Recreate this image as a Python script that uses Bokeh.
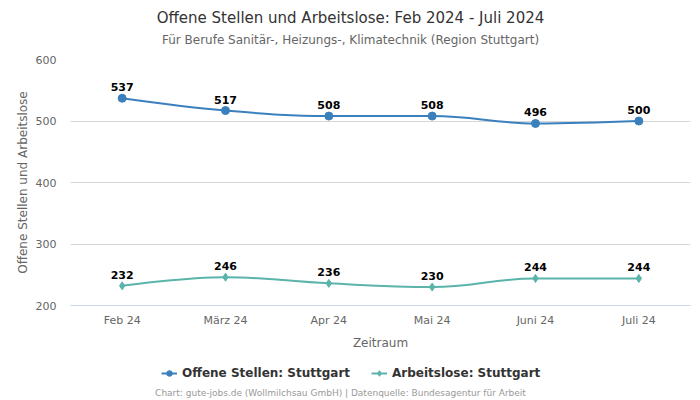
from bokeh.plotting import figure
from bokeh.layouts import column
from bokeh.models import (ColumnDataSource, Range1d, Label, Legend, LegendItem,
                          FixedTicker)
from bokeh.core.properties import value
from bokeh.embed import file_html
from bokeh.resources import INLINE

months = ["Feb 24", "März 24", "Apr 24", "Mai 24", "Juni 24", "Juli 24"]
offene = [537, 517, 508, 508, 496, 500]
arbeitslose = [232, 246, 236, 230, 244, 244]
y_ticks = [200, 300, 400, 500, 600]

BLUE = "#3a80bd"
TEAL = "#5ab4aa"
FONT = "DejaVu Sans"

W = 700
TOP_H, MAIN_H, BOT_H = 50, 302, 48
BL, BR = 70, 10   # frame borders left/right (frames are aligned in the column)


def spline_segments(xs, ys, smoothing=1.5):
    """Highcharts-style spline control points."""
    n = len(xs)
    denom = smoothing + 1
    right = [(xs[i], ys[i]) for i in range(n)]
    left = [(xs[i], ys[i]) for i in range(n)]
    for i in range(1, n - 1):
        px, py = xs[i], ys[i]
        lx, ly = xs[i - 1], ys[i - 1]
        nx, ny = xs[i + 1], ys[i + 1]
        lcx = (smoothing * px + lx) / denom
        lcy = (smoothing * py + ly) / denom
        rcx = (smoothing * px + nx) / denom
        rcy = (smoothing * py + ny) / denom
        corr = 0.0
        if rcx != lcx:
            corr = ((rcy - lcy) * (rcx - px)) / (rcx - lcx) + py - rcy
        lcy += corr
        rcy += corr
        if lcy > ly and lcy > py:
            lcy = max(ly, py); rcy = 2 * py - lcy
        elif lcy < ly and lcy < py:
            lcy = min(ly, py); rcy = 2 * py - lcy
        if rcy > ny and rcy > py:
            rcy = max(ny, py); lcy = 2 * py - rcy
        elif rcy < ny and rcy < py:
            rcy = min(ny, py); lcy = 2 * py - rcy
        left[i] = (lcx, lcy)
        right[i] = (rcx, rcy)
    seg = dict(x0=[], y0=[], x1=[], y1=[], cx0=[], cy0=[], cx1=[], cy1=[])
    for i in range(1, n):
        seg["x0"].append(xs[i - 1]); seg["y0"].append(ys[i - 1])
        seg["x1"].append(xs[i]); seg["y1"].append(ys[i])
        seg["cx0"].append(right[i - 1][0]); seg["cy0"].append(right[i - 1][1])
        seg["cx1"].append(left[i][0]); seg["cy1"].append(left[i][1])
    return seg


def blank_fig(h):
    f = figure(width=W, height=h, output_backend="svg", toolbar_location=None,
               x_range=Range1d(BL, W - BR), y_range=Range1d(h, 0),
               x_axis_type=None, y_axis_type=None, min_border=0,
               min_border_left=BL, min_border_right=BR)
    f.outline_line_color = None
    f.xgrid.visible = False
    f.ygrid.visible = False
    f.border_fill_color = "white"
    f.background_fill_color = "white"
    return f


# ---------- title block ----------
top = blank_fig(TOP_H)
top.add_layout(Label(x=350, y=17, text="Offene Stellen und Arbeitslose: Feb 2024 - Juli 2024",
                     text_align="center", text_baseline="middle", text_font=FONT,
                     text_font_size="15px", text_color="#333333"))
top.add_layout(Label(x=350, y=39, text="Für Berufe Sanitär-, Heizungs-, Klimatechnik (Region Stuttgart)",
                     text_align="center", text_baseline="middle", text_font=FONT,
                     text_font_size="12px", text_color="#666666"))

# ---------- main chart ----------
xs = list(range(len(months)))

p = figure(width=W, height=MAIN_H, output_backend="svg", toolbar_location=None,
           x_range=Range1d(-0.5, len(months) - 0.5), y_range=Range1d(200, 600),
           min_border_left=BL, min_border_right=BR, min_border_top=9,
           min_border_bottom=46)
p.outline_line_color = None
p.background_fill_color = "white"
p.border_fill_color = "white"

p.xgrid.grid_line_color = None
p.ygrid.grid_line_color = "#d6d6d6"
p.ygrid.ticker = FixedTicker(ticks=y_ticks)

p.yaxis.ticker = FixedTicker(ticks=y_ticks)
p.yaxis.axis_line_color = None
p.yaxis.major_tick_line_color = None
p.yaxis.minor_tick_line_color = None
p.yaxis.major_tick_out = 0
p.yaxis.major_tick_in = 0
p.yaxis.minor_tick_out = 0
p.yaxis.major_label_standoff = 14
p.yaxis.major_label_text_color = "#666666"
p.yaxis.major_label_text_font = FONT
p.yaxis.major_label_text_font_size = "11px"
p.yaxis.axis_label = "Offene Stellen und Arbeitslose"
p.yaxis.axis_label_text_font = FONT
p.yaxis.axis_label_text_font_style = "normal"
p.yaxis.axis_label_text_font_size = "12px"
p.yaxis.axis_label_text_color = "#666666"
p.yaxis.axis_label_standoff = 3

p.xaxis.ticker = FixedTicker(ticks=xs)
p.xaxis.major_label_overrides = {i: m for i, m in enumerate(months)}
p.xaxis.axis_line_color = "#ccd6eb"
p.xaxis.major_tick_line_color = None
p.xaxis.minor_tick_line_color = None
p.xaxis.major_tick_out = 0
p.xaxis.major_tick_in = 0
p.xaxis.minor_tick_out = 0
p.xaxis.major_label_text_color = "#666666"
p.xaxis.major_label_text_font = FONT
p.xaxis.major_label_text_font_size = "11px"
p.xaxis.major_label_standoff = 8
p.xaxis.axis_label = "Zeitraum"
p.xaxis.axis_label_text_font = FONT
p.xaxis.axis_label_text_font_style = "normal"
p.xaxis.axis_label_text_font_size = "12px"
p.xaxis.axis_label_text_color = "#666666"
p.xaxis.axis_label_standoff = 6

seg1 = spline_segments(xs, offene)
seg2 = spline_segments(xs, arbeitslose)
p.bezier(source=ColumnDataSource(seg1), x0="x0", y0="y0", x1="x1", y1="y1",
         cx0="cx0", cy0="cy0", cx1="cx1", cy1="cy1", line_color=BLUE, line_width=2)
p.bezier(source=ColumnDataSource(seg2), x0="x0", y0="y0", x1="x1", y1="y1",
         cx0="cx0", cy0="cy0", cx1="cx1", cy1="cy1", line_color=TEAL, line_width=2)

src1 = ColumnDataSource(dict(x=xs, y=offene, t=[str(v) for v in offene]))
src2 = ColumnDataSource(dict(x=xs, y=arbeitslose, t=[str(v) for v in arbeitslose]))
p.scatter("x", "y", source=src1, marker="circle", size=8, fill_color=BLUE, line_color=BLUE)
p.scatter("x", "y", source=src2, marker="diamond", size=8, fill_color=TEAL, line_color=TEAL)

for src in (src1, src2):
    p.text("x", "y", text="t", source=src, text_align="center", text_baseline="middle",
           y_offset=-11, text_font=value(FONT), text_font_size="11px",
           text_font_style="bold", text_color="#000000")

# ---------- legend + credit ----------
bot = blank_fig(BOT_H)
off = dict(x=[-1000, -999], y=[-1000, -1000])  # off-screen proxies for legend glyphs
e1 = bot.line(off["x"], off["y"], line_color=BLUE, line_width=2)
m1 = bot.scatter(off["x"], off["y"], marker="circle", size=8, fill_color=BLUE, line_color=BLUE)
e2 = bot.line(off["x"], off["y"], line_color=TEAL, line_width=2)
m2 = bot.scatter(off["x"], off["y"], marker="diamond", size=8, fill_color=TEAL, line_color=TEAL)
legend = Legend(items=[LegendItem(label="Offene Stellen: Stuttgart", renderers=[e1, m1]),
                       LegendItem(label="Arbeitslose: Stuttgart", renderers=[e2, m2])],
                orientation="horizontal", location=(161 - BL, 20),
                label_text_font=FONT, label_text_font_size="12px",
                label_text_font_style="bold", label_text_color="#333333",
                label_standoff=5, label_height=14, glyph_width=16, glyph_height=14,
                spacing=21, padding=0, margin=0, border_line_color=None,
                background_fill_alpha=0)
bot.add_layout(legend, "center")
bot.add_layout(Label(x=340, y=40,
                     text="Chart: gute-jobs.de (Wollmilchsau GmbH) | Datenquelle: Bundesagentur für Arbeit",
                     text_align="center", text_baseline="middle", text_font=FONT,
                     text_font_size="9px", text_color="#999999"))

layout = column(top, p, bot, spacing=0)
open("out.html", "w").write(file_html(layout, INLINE))
